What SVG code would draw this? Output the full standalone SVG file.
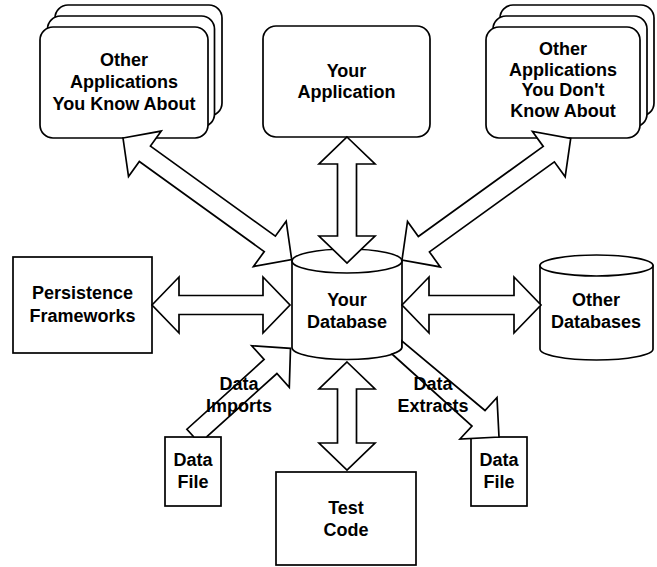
<svg xmlns="http://www.w3.org/2000/svg" width="657" height="567" viewBox="0 0 657 567">
  <style>
    .shape { fill: #fff; stroke: #000; stroke-width: 1.7; stroke-linejoin: miter; }
    .label { font-family: "Liberation Sans", Arial, Helvetica, sans-serif; font-weight: bold; font-size: 18px; fill: #000; text-anchor: middle; }
  </style>
  <defs>
    <!-- double-headed block arrow along +x; heads 27 long, 56 wide; shaft 19 wide -->
    <polygon id="dbl-126" points="0,0 27,-28 27,-9.5 99,-9.5 99,-28 126,0 99,28 99,9.5 27,9.5 27,28"/>
    <polygon id="dbl-108" points="0,0 27,-28 27,-9.5 81,-9.5 81,-28 108,0 81,28 81,9.5 27,9.5 27,28"/>
    <polygon id="dbl-138" points="0,0 27,-28 27,-9.5 111,-9.5 111,-28 138,0 111,28 111,9.5 27,9.5 27,28"/>
    <polygon id="dbl-139" points="0,0 27,-28 27,-9.5 112,-9.5 112,-28 139,0 112,28 112,9.5 27,9.5 27,28"/>
    <polygon id="dbl-208" points="0,0 27,-28 27,-9.5 181,-9.5 181,-28 208,0 181,28 181,9.5 27,9.5 27,28"/>
  </defs>

  <rect width="657" height="567" fill="#fff"/>

  <!-- Nodes -->
  <g id="apps-known">
    <rect class="shape" x="55" y="5" width="167" height="111" rx="13"/>
    <rect class="shape" x="47.5" y="16" width="167" height="111" rx="13"/>
    <rect class="shape" x="40" y="27" width="168" height="111" rx="13"/>
    <text class="label" x="124" y="66">Other</text>
    <text class="label" x="124" y="88">Applications</text>
    <text class="label" x="124" y="110">You Know About</text>
  </g>

  <g id="your-app">
    <rect class="shape" x="263" y="26" width="167" height="111" rx="13"/>
    <text class="label" x="346.5" y="77">Your</text>
    <text class="label" x="346.5" y="98">Application</text>
  </g>

  <g id="apps-unknown">
    <rect class="shape" x="500" y="5" width="154" height="111" rx="13"/>
    <rect class="shape" x="493" y="16" width="154" height="111" rx="13"/>
    <rect class="shape" x="486" y="27" width="154" height="111" rx="13"/>
    <text class="label" x="563" y="55">Other</text>
    <text class="label" x="563" y="75.5">Applications</text>
    <text class="label" x="563" y="96">You Don't</text>
    <text class="label" x="563" y="116.5">Know About</text>
  </g>

  <g id="persistence">
    <rect class="shape" x="13" y="257" width="139" height="96"/>
    <text class="label" x="82.5" y="299">Persistence</text>
    <text class="label" x="82.5" y="321.5">Frameworks</text>
  </g>

  <g id="your-db">
    <path class="shape" d="M292,261 L292,347.5 A55 12 0 0 0 402,347.5 L402,261 Z"/>
    <ellipse class="shape" cx="347" cy="261" rx="55" ry="12"/>
    <text class="label" x="347" y="306">Your</text>
    <text class="label" x="347" y="328">Database</text>
  </g>

  <g id="other-db">
    <path class="shape" d="M540,265.5 L540,349 A56.5 11 0 0 0 653,349 L653,265.5 Z"/>
    <ellipse class="shape" cx="596.5" cy="265.5" rx="56.5" ry="10.5"/>
    <text class="label" x="596" y="306">Other</text>
    <text class="label" x="596" y="328">Databases</text>
  </g>

  <g id="data-file-in">
    <rect class="shape" x="165" y="437" width="56" height="69"/>
    <text class="label" x="193" y="466">Data</text>
    <text class="label" x="193" y="488">File</text>
  </g>

  <g id="data-file-out">
    <rect class="shape" x="471" y="437" width="56" height="69"/>
    <text class="label" x="499" y="466">Data</text>
    <text class="label" x="499" y="488">File</text>
  </g>

  <g id="test-code">
    <rect class="shape" x="276" y="472" width="140" height="93"/>
    <text class="label" x="346" y="514">Test</text>
    <text class="label" x="346" y="536">Code</text>
  </g>

  <!-- Connectors -->
  <g id="connectors">
    <use href="#dbl-208" class="shape" transform="translate(123,138) rotate(35.8)"/>
    <use href="#dbl-208" class="shape" transform="translate(402,260) rotate(-35.8)"/>
    <use href="#dbl-126" class="shape" transform="translate(347,137) rotate(90)"/>
    <use href="#dbl-108" class="shape" transform="translate(347,362) rotate(90)"/>
    <use href="#dbl-138" class="shape" transform="translate(152,305)"/>
    <use href="#dbl-139" class="shape" transform="translate(402,305)"/>
    <!-- import: data file into the database -->
    <polygon class="shape" points="290.5,348.4 289.3,387.3 276.9,373.5 206.6,437 193.9,437 186.9,429.2 264.1,359.5 251.7,345.7"/>
    <!-- extract: database out to data file, tail follows the cylinder base -->
    <path class="shape" d="M499,437 L497,397.5 L485,410.5 L402,341 L402,347.5 A55 12 0 0 1 392,354 L472,426 L460,439 Z"/>
  </g>

  <!-- arrow labels -->
  <g id="arrow-labels">
    <text class="label" x="239" y="390">Data</text>
    <text class="label" x="239" y="412">Imports</text>
    <text class="label" x="433" y="390">Data</text>
    <text class="label" x="433" y="412">Extracts</text>
  </g>
</svg>
